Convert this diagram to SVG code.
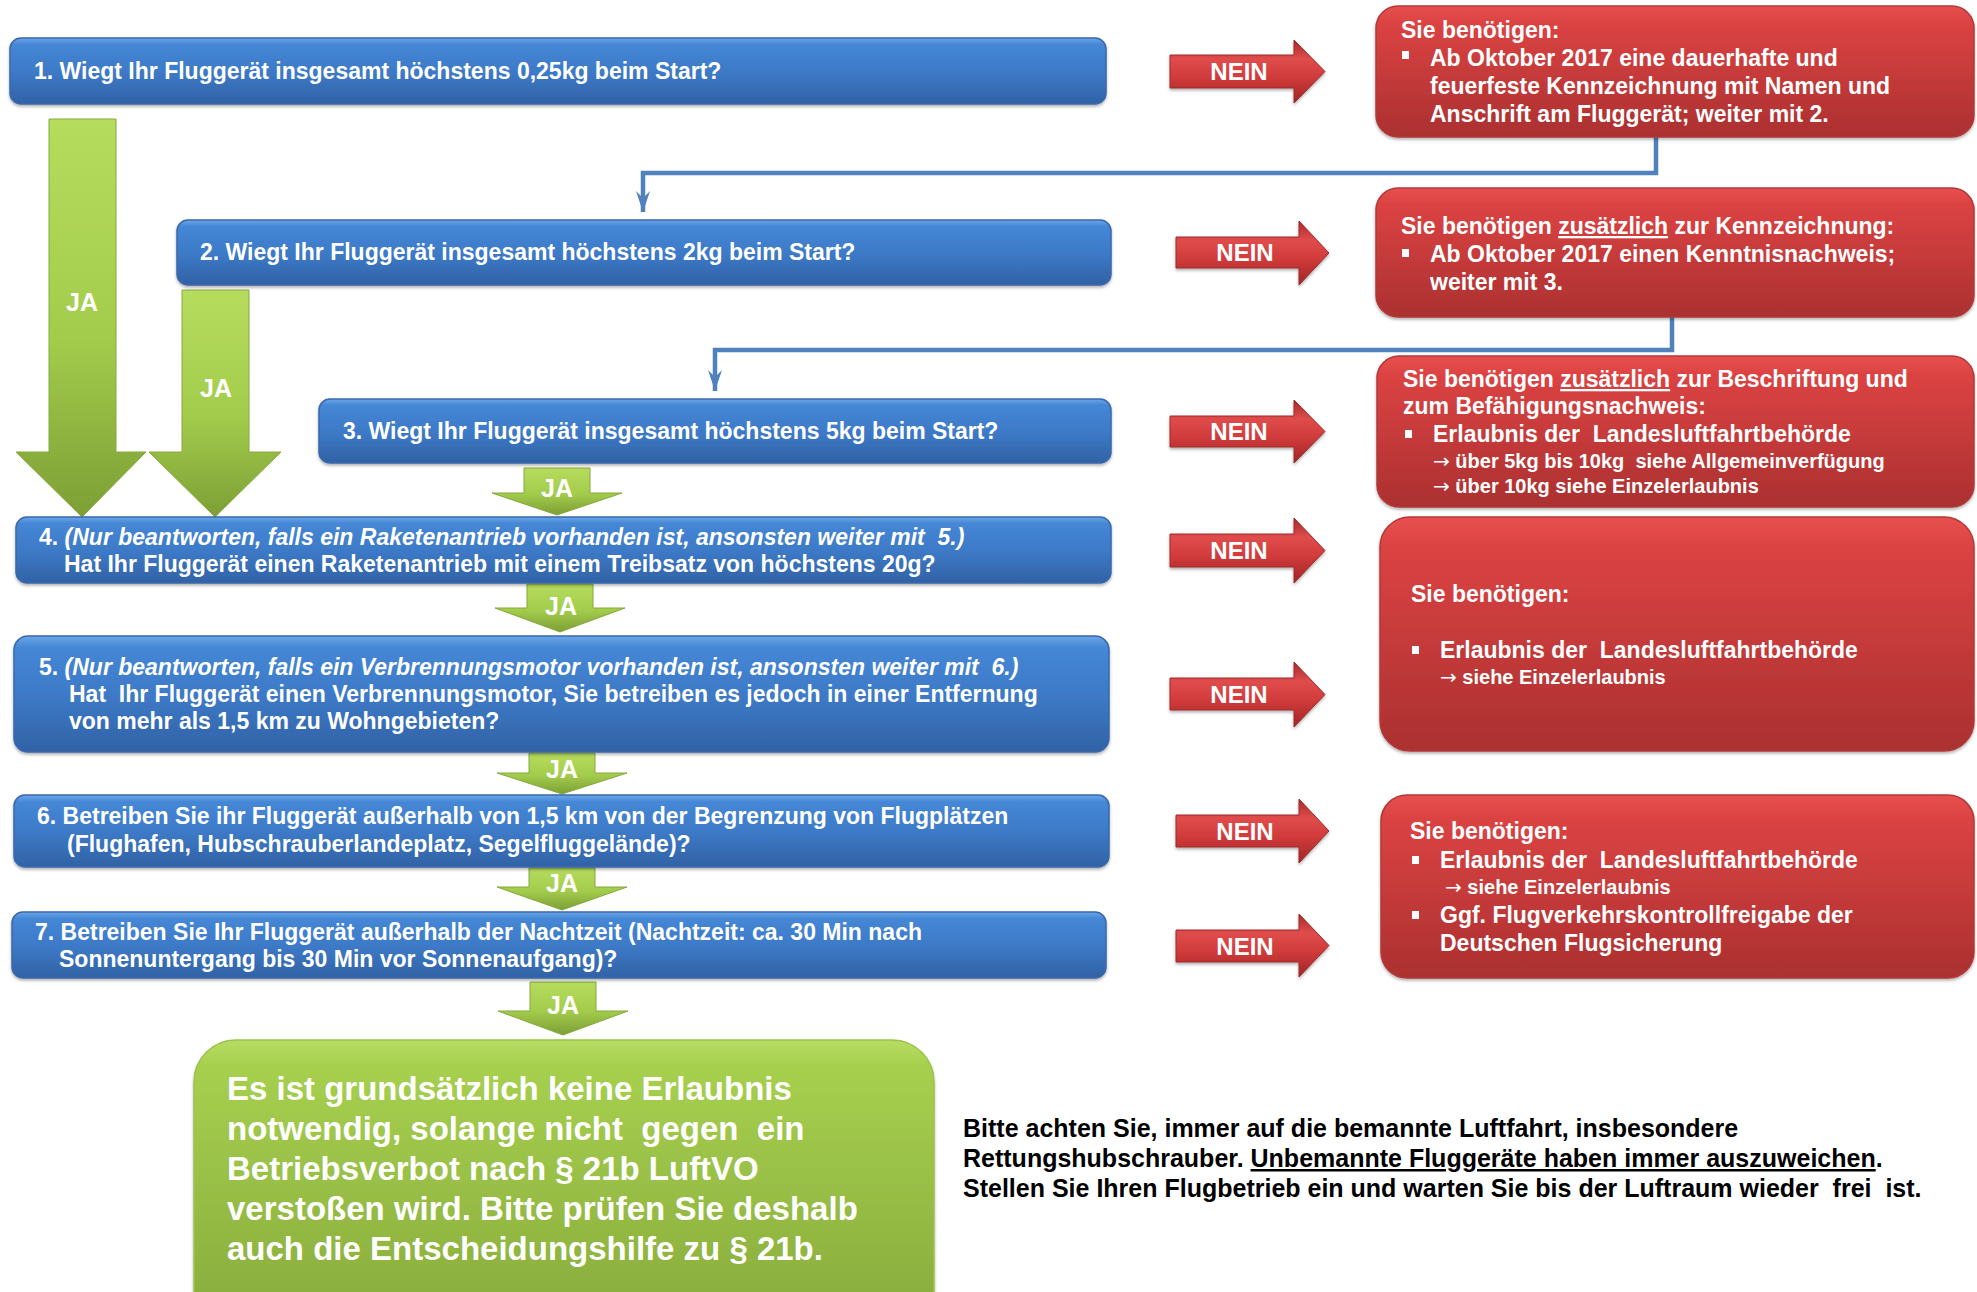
<svg xmlns="http://www.w3.org/2000/svg" width="1977" height="1292" viewBox="0 0 1977 1292">
<style>
text { font-family: "Liberation Sans", Arial, sans-serif; font-weight: bold; white-space: pre; }
.q { font-size: 23px; fill: #ffffff; }
.s { font-size: 20px; fill: #ffffff; }
.ar { font-family: "DejaVu Sans", sans-serif; font-weight: normal; }
.it { font-style: italic; }
.nein { font-size: 24px; fill: #ffffff; text-anchor: middle; }
.ja { font-size: 25px; fill: #ffffff; text-anchor: middle; }
.big { font-size: 33px; fill: #ffffff; }
.note { font-size: 25px; fill: #000000; }
.blue { fill: url(#blueG); stroke: #3a68aa; stroke-width: 1.5; filter: url(#sh); }
.red { fill: url(#redG); stroke: #b23838; stroke-width: 1.5; filter: url(#sh); }
.neinA { fill: url(#neinG); stroke: #9e2a2a; stroke-width: 1; filter: url(#sh); }
.jaA { fill: url(#jaG); stroke: #86a83c; stroke-width: 1; }
.conn { fill: none; stroke: #4f81bd; stroke-width: 4.5; }
.bul { fill: #ffffff; }
</style>
<defs>
<linearGradient id="blueG" x1="0" y1="0" x2="0" y2="1">
<stop offset="0" stop-color="#6aa6e8"/>
<stop offset="0.1" stop-color="#4587d6"/>
<stop offset="0.55" stop-color="#3c78c5"/>
<stop offset="1" stop-color="#3162a5"/>
</linearGradient>
<linearGradient id="redG" x1="0" y1="0" x2="0" y2="1">
<stop offset="0" stop-color="#e85050"/>
<stop offset="0.12" stop-color="#dc4343"/>
<stop offset="1" stop-color="#ab3030"/>
</linearGradient>
<linearGradient id="neinG" x1="0" y1="0" x2="0" y2="1">
<stop offset="0" stop-color="#a52a2a"/>
<stop offset="0.3" stop-color="#e04c4c"/>
<stop offset="0.6" stop-color="#d03a3a"/>
<stop offset="1" stop-color="#a02626"/>
</linearGradient>
<linearGradient id="jaG" x1="0" y1="0" x2="0" y2="1">
<stop offset="0" stop-color="#b6dc5e"/>
<stop offset="0.55" stop-color="#a3cc4c"/>
<stop offset="1" stop-color="#7d9f35"/>
</linearGradient>
<linearGradient id="greenG" x1="0" y1="0" x2="0" y2="1">
<stop offset="0" stop-color="#b7dc62"/>
<stop offset="0.08" stop-color="#a7d04f"/>
<stop offset="1" stop-color="#86a93b"/>
</linearGradient>
<filter id="sh" x="-5%" y="-10%" width="110%" height="130%">
<feDropShadow dx="0" dy="2" stdDeviation="1.5" flood-color="#000" flood-opacity="0.3"/>
</filter>
<marker id="arr" markerUnits="userSpaceOnUse" markerWidth="22" markerHeight="16" viewBox="0 0 22 16" refX="21" refY="8" orient="auto">
<path d="M0,1 L21,8 L0,15 L7,8 Z" fill="#4f81bd"/>
</marker>
</defs>

<!-- connectors -->
<g id="connectors">
<path class="conn" d="M1656,137 V173 H643 V212" marker-end="url(#arr)"/>
<path class="conn" d="M1672,317 V350 H715 V391" marker-end="url(#arr)"/>
<path class="jaA" d="M49,119 H116 V452 H146 L82,517 L16,452 H49 Z"/>
<path class="jaA" d="M182,290 H249 V452 H281 L215,517 L149,452 H182 Z"/>
<text class="ja" x="82" y="311">JA</text>
<text class="ja" x="216" y="397">JA</text>
<path class="jaA" d="M524,468 H590 V493 H622 L557,515 L492,493 H524 Z"/>
<text class="ja" x="557" y="497">JA</text>
<path class="jaA" d="M527,584 H593 V608 H625 L560,632 L495,608 H527 Z"/>
<text class="ja" x="561" y="615">JA</text>
<path class="jaA" d="M529,753 H595 V773 H627 L562,794 L497,773 H529 Z"/>
<text class="ja" x="562" y="778">JA</text>
<path class="jaA" d="M529,868 H595 V887 H627 L562,910 L497,887 H529 Z"/>
<text class="ja" x="562" y="892">JA</text>
<path class="jaA" d="M530,982 H596 V1011 H628 L563,1035 L498,1011 H530 Z"/>
<text class="ja" x="563" y="1014">JA</text>
<path class="neinA" d="M1170,55 H1294 V40 L1325,71.5 L1294,103 V88 H1170 Z"/>
<text class="nein" x="1239" y="80">NEIN</text>
<path class="neinA" d="M1176,237 H1299 V221 L1329,253 L1299,285 V268 H1176 Z"/>
<text class="nein" x="1245" y="261">NEIN</text>
<path class="neinA" d="M1170,416 H1294 V400 L1325,431.5 L1294,463 V447 H1170 Z"/>
<text class="nein" x="1239" y="440">NEIN</text>
<path class="neinA" d="M1170,534 H1294 V518 L1325,550.5 L1294,583 V567 H1170 Z"/>
<text class="nein" x="1239" y="559">NEIN</text>
<path class="neinA" d="M1170,678 H1294 V662 L1325,694.5 L1294,727 V710 H1170 Z"/>
<text class="nein" x="1239" y="703">NEIN</text>
<path class="neinA" d="M1176,815 H1299 V799 L1329,831 L1299,863 V847 H1176 Z"/>
<text class="nein" x="1245" y="840">NEIN</text>
<path class="neinA" d="M1176,930 H1299 V914 L1329,945.5 L1299,977 V962 H1176 Z"/>
<text class="nein" x="1245" y="955">NEIN</text>
</g>

<!-- question nodes -->
<g id="q1">
<rect class="blue" x="10" y="38" width="1096" height="66" rx="11"/>
<text class="q" x="34" y="79">1. Wiegt Ihr Fluggerät insgesamt höchstens 0,25kg beim Start?</text>
</g>
<g id="q2">
<rect class="blue" x="177" y="220" width="934" height="65" rx="11"/>
<text class="q" x="200" y="260">2. Wiegt Ihr Fluggerät insgesamt höchstens 2kg beim Start?</text>
</g>
<g id="q3">
<rect class="blue" x="319" y="399" width="792" height="64" rx="11"/>
<text class="q" x="343" y="439">3. Wiegt Ihr Fluggerät insgesamt höchstens 5kg beim Start?</text>
</g>
<g id="q4">
<rect class="blue" x="16" y="517" width="1095" height="66" rx="11"/>
<text class="q" x="39" y="545">4. <tspan class="it">(Nur beantworten, falls ein Raketenantrieb vorhanden ist, ansonsten weiter mit  5.)</tspan></text>
<text class="q" x="64" y="572">Hat Ihr Fluggerät einen Raketenantrieb mit einem Treibsatz von höchstens 20g?</text>
</g>
<g id="q5">
<rect class="blue" x="14" y="636" width="1095" height="116" rx="14"/>
<text class="q" x="39" y="675">5. <tspan class="it">(Nur beantworten, falls ein Verbrennungsmotor vorhanden ist, ansonsten weiter mit  6.)</tspan></text>
<text class="q" x="69" y="702">Hat  Ihr Fluggerät einen Verbrennungsmotor, Sie betreiben es jedoch in einer Entfernung</text>
<text class="q" x="69" y="729">von mehr als 1,5 km zu Wohngebieten?</text>
</g>
<g id="q6">
<rect class="blue" x="14" y="795" width="1095" height="72" rx="11"/>
<text class="q" x="37" y="824">6. Betreiben Sie ihr Fluggerät außerhalb von 1,5 km von der Begrenzung von Flugplätzen</text>
<text class="q" x="67" y="852">(Flughafen, Hubschrauberlandeplatz, Segelfluggelände)?</text>
</g>
<g id="q7">
<rect class="blue" x="12" y="912" width="1094" height="66" rx="11"/>
<text class="q" x="35" y="940">7. Betreiben Sie Ihr Fluggerät außerhalb der Nachtzeit (Nachtzeit: ca. 30 Min nach</text>
<text class="q" x="59" y="967">Sonnenuntergang bis 30 Min vor Sonnenaufgang)?</text>
</g>

<!-- answer nodes -->
<g id="r1">
<rect class="red" x="1376" y="6" width="598" height="131" rx="22"/>
<text class="q" x="1401" y="38">Sie benötigen:</text>
<rect class="bul" x="1402" y="51" width="7" height="8"/>
<text class="q" x="1430" y="66">Ab Oktober 2017 eine dauerhafte und</text>
<text class="q" x="1430" y="94">feuerfeste Kennzeichnung mit Namen und</text>
<text class="q" x="1430" y="122">Anschrift am Fluggerät; weiter mit 2.</text>
</g>
<g id="r2">
<rect class="red" x="1376" y="188" width="598" height="129" rx="22"/>
<text class="q" x="1401" y="234">Sie benötigen <tspan text-decoration="underline">zusätzlich</tspan> zur Kennzeichnung:</text>
<rect class="bul" x="1402" y="249" width="7" height="8"/>
<text class="q" x="1430" y="262">Ab Oktober 2017 einen Kenntnisnachweis;</text>
<text class="q" x="1430" y="290">weiter mit 3.</text>
</g>
<g id="r3">
<rect class="red" x="1377" y="356" width="597" height="151" rx="22"/>
<text class="q" x="1403" y="387">Sie benötigen <tspan text-decoration="underline">zusätzlich</tspan> zur Beschriftung und</text>
<text class="q" x="1403" y="414">zum Befähigungsnachweis:</text>
<rect class="bul" x="1405" y="430" width="7" height="8"/>
<text class="q" x="1433" y="442">Erlaubnis der  Landesluftfahrtbehörde</text>
<text class="s" x="1433" y="468"><tspan class="ar">→</tspan> über 5kg bis 10kg  siehe Allgemeinverfügung</text>
<text class="s" x="1433" y="493"><tspan class="ar">→</tspan> über 10kg siehe Einzelerlaubnis</text>
</g>
<g id="r4">
<rect class="red" x="1380" y="517" width="594" height="234" rx="30"/>
<text class="q" x="1411" y="602">Sie benötigen:</text>
<rect class="bul" x="1412" y="646" width="7" height="8"/>
<text class="q" x="1440" y="658">Erlaubnis der  Landesluftfahrtbehörde</text>
<text class="s" x="1440" y="684"><tspan class="ar">→</tspan> siehe Einzelerlaubnis</text>
</g>
<g id="r5">
<rect class="red" x="1381" y="795" width="593" height="183" rx="26"/>
<text class="q" x="1410" y="839">Sie benötigen:</text>
<rect class="bul" x="1412" y="856" width="7" height="8"/>
<text class="q" x="1440" y="868">Erlaubnis der  Landesluftfahrtbehörde</text>
<text class="s" x="1445" y="894"><tspan class="ar">→</tspan> siehe Einzelerlaubnis</text>
<rect class="bul" x="1412" y="911" width="7" height="8"/>
<text class="q" x="1440" y="923">Ggf. Flugverkehrskontrollfreigabe der</text>
<text class="q" x="1440" y="951">Deutschen Flugsicherung</text>
</g>

<!-- result node -->
<g id="result">
<rect x="194" y="1040" width="740" height="300" rx="42" fill="url(#greenG)" stroke="#9cc24a" stroke-width="1.5" filter="url(#sh)"/>
<text class="big" x="227" y="1100">Es ist grundsätzlich keine Erlaubnis</text>
<text class="big" x="227" y="1140">notwendig, solange nicht  gegen  ein</text>
<text class="big" x="227" y="1180">Betriebsverbot nach § 21b LuftVO</text>
<text class="big" x="227" y="1220">verstoßen wird. Bitte prüfen Sie deshalb</text>
<text class="big" x="227" y="1260">auch die Entscheidungshilfe zu § 21b.</text>
</g>

<!-- note -->
<g id="note">
<text class="note" x="963" y="1137">Bitte achten Sie, immer auf die bemannte Luftfahrt, insbesondere</text>
<text class="note" x="963" y="1167">Rettungshubschrauber. <tspan text-decoration="underline">Unbemannte Fluggeräte haben immer auszuweichen</tspan>.</text>
<text class="note" x="963" y="1197">Stellen Sie Ihren Flugbetrieb ein und warten Sie bis der Luftraum wieder  frei  ist.</text>
</g>
</svg>
